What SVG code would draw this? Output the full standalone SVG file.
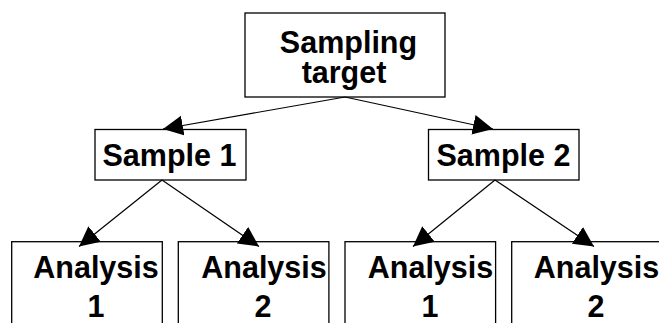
<svg xmlns="http://www.w3.org/2000/svg" width="659" height="323" viewBox="0 0 659 323">
<style>
.box{fill:#fff;stroke:#000;stroke-width:1.3}
.lbl{font-family:"Liberation Sans",Arial,sans-serif;font-weight:bold;font-size:30.5px;fill:#000;text-anchor:middle}
.conn{stroke:#000;stroke-width:1.2;fill:none;marker-end:url(#ah)}
</style>
<defs>
<marker id="ah" markerUnits="userSpaceOnUse" markerWidth="22" markerHeight="22" refX="20" refY="10" orient="auto" viewBox="0 0 22 22">
<path d="M0,0 L20,10 L0,20 z" fill="#000"/>
</marker>
</defs>
<rect width="659" height="323" fill="#fff"/>
<g id="sampling-target">
<rect class="box" x="245" y="13" width="200" height="84"/>
<text class="lbl"><tspan x="348.5" y="52.5">Sampling</tspan><tspan x="344" y="82.5">target</tspan></text>
</g>
<g id="sample-1">
<rect class="box" x="95" y="129.5" width="151" height="50.5"/>
<text class="lbl" x="169.5" y="165.5">Sample 1</text>
</g>
<g id="sample-2">
<rect class="box" x="428.5" y="129.5" width="150.5" height="50.5"/>
<text class="lbl" x="503.5" y="165.5">Sample 2</text>
</g>
<g id="analysis-1-1">
<rect class="box" x="11.7" y="241.7" width="150.6" height="100"/>
<text class="lbl"><tspan x="96" y="278.3">Analysis</tspan><tspan x="96" y="316.7">1</tspan></text>
</g>
<g id="analysis-1-2">
<rect class="box" x="178.3" y="241.7" width="150.6" height="100"/>
<text class="lbl"><tspan x="264" y="278.3">Analysis</tspan><tspan x="263" y="316.7">2</tspan></text>
</g>
<g id="analysis-2-1">
<rect class="box" x="345" y="241.7" width="150.6" height="100"/>
<text class="lbl"><tspan x="430.5" y="278.3">Analysis</tspan><tspan x="430" y="316.7">1</tspan></text>
</g>
<g id="analysis-2-2">
<rect class="box" x="511.7" y="241.7" width="150.6" height="100"/>
<text class="lbl"><tspan x="596.5" y="278.3">Analysis</tspan><tspan x="596" y="316.7">2</tspan></text>
</g>
<g id="connectors">
<line class="conn" x1="345" y1="97" x2="163" y2="129"/>
<line class="conn" x1="345" y1="97" x2="493" y2="129"/>
<line class="conn" x1="162" y1="180" x2="79" y2="246.5"/>
<line class="conn" x1="162" y1="180" x2="259" y2="246.5"/>
<line class="conn" x1="495" y1="180" x2="413" y2="246.5"/>
<line class="conn" x1="495" y1="180" x2="594" y2="246.5"/>
</g>
</svg>
